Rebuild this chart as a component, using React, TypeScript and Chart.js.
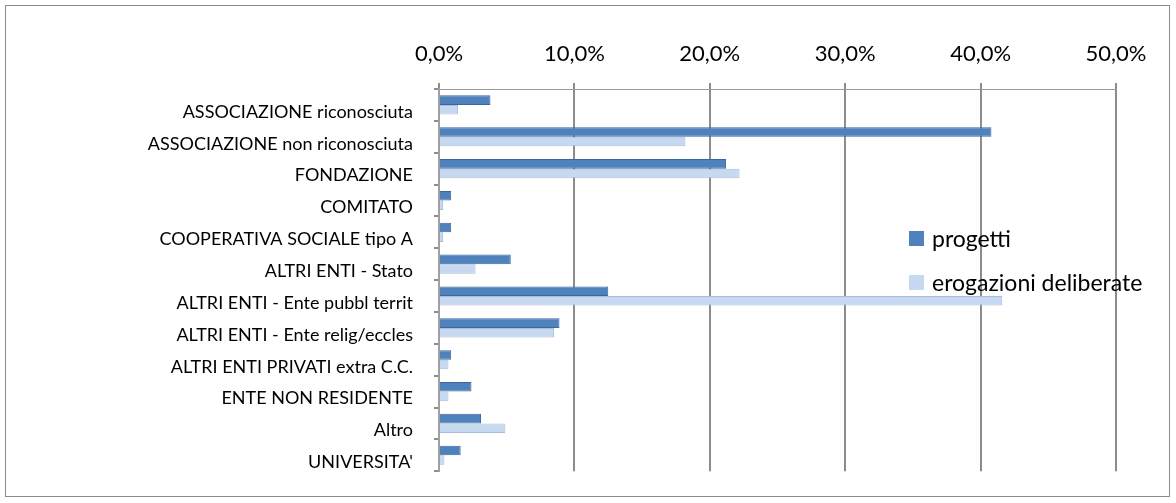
import React, { useEffect, useRef } from "react";
import { Chart, registerables } from "chart.js";

Chart.register(...registerables);

const categories = [
  "ASSOCIAZIONE riconosciuta",
  "ASSOCIAZIONE non riconosciuta",
  "FONDAZIONE",
  "COMITATO",
  "COOPERATIVA SOCIALE tipo A",
  "ALTRI ENTI - Stato",
  "ALTRI ENTI - Ente pubbl territ",
  "ALTRI ENTI - Ente relig/eccles",
  "ALTRI ENTI PRIVATI extra C.C.",
  "ENTE NON RESIDENTE",
  "Altro",
  "UNIVERSITA'",
];
const progetti = [3.8, 40.8, 21.2, 0.9, 0.9, 5.3, 12.5, 8.9, 0.9, 2.4, 3.1, 1.6];
const erogazioni = [1.4, 18.2, 22.2, 0.3, 0.3, 2.7, 41.6, 8.5, 0.7, 0.7, 4.9, 0.4];
const seriesNames = ["progetti", "erogazioni deliberate"];
const xMin = 0;
const xMax = 50;
const xStep = 10;

const DARK = "#4F81BD";
const LIGHT = "#C6D9F1";
const FONT = "Lato, 'Open Sans', sans-serif";

export default function App() {
  const ref = useRef<HTMLCanvasElement | null>(null);

  useEffect(() => {
    if (!ref.current) return;
    const chart = new Chart(ref.current, {
      type: "bar",
      data: {
        labels: categories,
        datasets: [
          {
            label: seriesNames[0],
            data: progetti,
            backgroundColor: DARK,
            borderColor: "#3A679E",
            borderWidth: 1,
            categoryPercentage: 0.6,
            barPercentage: 1,
          },
          {
            label: seriesNames[1],
            data: erogazioni,
            backgroundColor: LIGHT,
            borderColor: "#A9BEDA",
            borderWidth: 1,
            categoryPercentage: 0.6,
            barPercentage: 1,
          },
        ],
      },
      options: {
        indexAxis: "y",
        responsive: false,
        animation: false,
        layout: { padding: { left: 0, top: 0, right: 60, bottom: 26 } },
        plugins: {
          legend: { display: false },
          tooltip: { enabled: false },
        },
        scales: {
          x: {
            position: "top",
            min: xMin,
            max: xMax,
            afterFit: (s: any) => {
              s.height = 89;
            },
            ticks: {
              stepSize: xStep,
              color: "#000",
              padding: 16,
              font: { family: FONT, size: 22 },
              callback: (v: any) => Number(v).toFixed(1).replace(".", ",") + "%",
            },
            grid: {
              color: "#8C8C8C",
              lineWidth: 2,
              tickLength: 6,
            },
            border: { display: true, color: "#9A9A9A", width: 1 },
          },
          y: {
            afterFit: (s: any) => {
              s.width = 439;
            },
            ticks: {
              color: "#000",
              padding: 21,
              labelOffset: 7,
              font: { family: FONT, size: 18 },
            },
            grid: {
              display: true,
              drawOnChartArea: false,
              drawTicks: true,
              tickLength: 5,
              color: "#8C8C8C",
              lineWidth: 2,
            },
            border: { display: true, color: "#A0A0A0", width: 2 },
          },
        },
      },
    });
    return () => chart.destroy();
  }, []);

  const legendItem = (color: string, text: string, top: number) => (
    <div
      style={{
        position: "absolute",
        left: 909,
        top,
        display: "flex",
        alignItems: "center",
        fontFamily: FONT,
        fontSize: 23,
        color: "#000",
        whiteSpace: "nowrap",
      }}
    >
      <span style={{ display: "inline-block", width: 15, height: 15, background: color, marginRight: 8 }} />
      <span>{text}</span>
    </div>
  );

  return (
    <div style={{ position: "fixed", left: 0, top: 0, width: 1176, height: 503, background: "#fff" }}>
      <div
        style={{
          position: "absolute",
          left: 5,
          top: 5,
          width: 1163,
          height: 490,
          border: "1px solid #8A8A8A",
        }}
      />
      <canvas ref={ref} width={1176} height={503} style={{ position: "absolute", left: 0, top: 0 }} />
      {legendItem(DARK, seriesNames[0], 224)}
      {legendItem(LIGHT, seriesNames[1], 268)}
    </div>
  );
}
